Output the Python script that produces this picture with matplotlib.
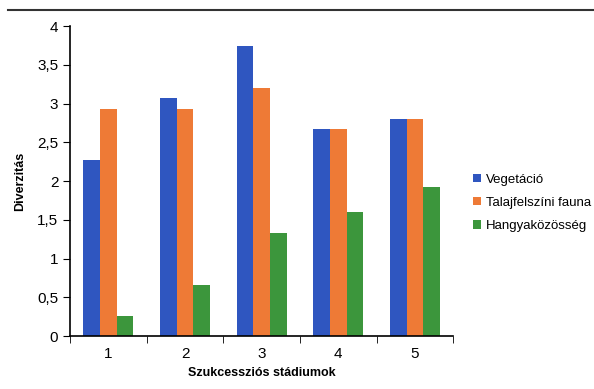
import numpy as np
import matplotlib.pyplot as plt
from matplotlib.lines import Line2D

# Adatok
stadiumok = ["1", "2", "3", "4", "5"]
vegetacio = [2.27, 3.07, 3.74, 2.67, 2.80]
fauna = [2.93, 2.93, 3.20, 2.67, 2.80]
hangya = [0.26, 0.66, 1.33, 1.60, 1.93]
sorozatok = ["Vegetáció", "Talajfelszíni fauna", "Hangyaközösség"]
szinek = ["#2F56C0", "#EE7A36", "#3C963C"]
y_tick_labels = ["0", "0,5", "1", "1,5", "2", "2,5", "3", "3,5", "4"]

plt.rcParams['font.family'] = ['Liberation Sans', 'DejaVu Sans']

fig = plt.figure(figsize=(5.94, 3.89), dpi=100)
ax = fig.add_axes([0.118, 0.136, 0.645, 0.797])

x = np.arange(len(stadiumok))
w = 0.217
for i, (vals, nev, szin) in enumerate(zip([vegetacio, fauna, hangya], sorozatok, szinek)):
    ax.bar(x + (i - 1) * w, vals, width=w, color=szin, label=nev)

ax.set_xlim(-0.5, 4.5)
ax.set_ylim(0, 4)
ax.set_yticks(np.arange(0, 4.01, 0.5))
ax.set_yticklabels(y_tick_labels, fontsize=11)
ax.set_xticks(x)
ax.set_xticklabels(stadiumok, fontsize=11)
ax.tick_params(axis='x', length=0, pad=8)
ax.set_xticks(np.arange(-0.5, 4.6, 1), minor=True)
ax.tick_params(axis='x', which='minor', length=5, direction='out')
ax.tick_params(axis='y', length=5, direction='out')
for s in ['top', 'right']:
    ax.spines[s].set_visible(False)
ax.spines['left'].set_linewidth(1.2)
ax.spines['bottom'].set_linewidth(1.2)

ax.set_ylabel("Diverzitás", fontsize=9, fontweight='bold', labelpad=8)
ax.set_xlabel("Szukcessziós stádiumok", fontsize=9, fontweight='bold', labelpad=4)

ax.legend(loc='center left', bbox_to_anchor=(1.02, 0.43), frameon=False, fontsize=9.5,
          handlelength=0.6, handleheight=0.6, handletextpad=0.4, labelspacing=0.85)

fig.add_artist(Line2D([0.013, 1.0], [0.974, 0.974], color='#333333', linewidth=1.5))

fig.savefig("out.png", dpi=100)
